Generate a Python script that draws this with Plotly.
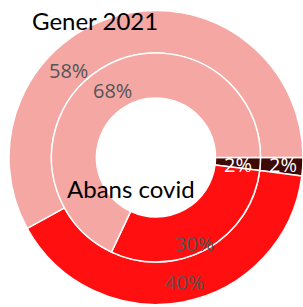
import plotly.graph_objects as go

categories = ["Altres", "Vermell", "Rosa"]
outer_label = "Gener 2021"
inner_label = "Abans covid"
outer_values = [2, 40, 58]
inner_values = [2, 30, 68]
colors = ["#3D0A05", "#FF0F0F", "#F4A7A3"]

W, H = 303, 307
cx, cy = 156, 157.5  # pixels from top-left
R_out, R_mid, R_in = 147, 104.5, 59.5

def dom(r):
    return dict(x=[(cx - r) / W, min((cx + r) / W, 1.0)],
                y=[(H - cy - r) / H, (H - cy + r) / H])

fig = go.Figure()
fig.add_trace(go.Pie(
    values=outer_values, labels=categories, sort=False, direction="clockwise",
    rotation=90, hole=R_mid / R_out, domain=dom(R_out),
    marker=dict(colors=colors, line=dict(color="white", width=1.5)),
    textinfo="none", hoverinfo="label+percent", showlegend=False))
fig.add_trace(go.Pie(
    values=inner_values, labels=categories, sort=False, direction="clockwise",
    rotation=90, hole=R_in / R_mid, domain=dom(R_mid),
    marker=dict(colors=colors, line=dict(color="white", width=1.5)),
    textinfo="none", hoverinfo="label+percent", showlegend=False))

# label positions (pixels) for outer and inner percentages: dark, red, pink
outer_pos = [(283, 164), (184, 282), (68, 70)]
inner_pos = [(238, 164), (194, 243), (112, 90)]
txt_colors = ["white", "#555555", "#555555"]

annotations = []
for vals, pos in ((outer_values, outer_pos), (inner_values, inner_pos)):
    for v, (px, py), c in zip(vals, pos, txt_colors):
        annotations.append(dict(
            x=px / W, y=1 - py / H, xref="paper", yref="paper",
            xanchor="center", yanchor="middle",
            text=f"{v}%", showarrow=False,
            font=dict(family="Open Sans", size=20, color=c)))

annotations.append(dict(x=95 / W, y=1 - 20 / H, xref="paper", yref="paper",
                        xanchor="center", yanchor="middle",
                        text=outer_label, showarrow=False,
                        font=dict(family="Lato", size=24, color="black")))
annotations.append(dict(x=131 / W, y=1 - 188 / H, xref="paper", yref="paper",
                        xanchor="center", yanchor="middle",
                        text=inner_label, showarrow=False,
                        font=dict(family="Lato", size=24, color="black")))

fig.update_layout(width=W, height=H, margin=dict(l=0, r=0, t=0, b=0),
                  paper_bgcolor="white", plot_bgcolor="white",
                  annotations=annotations)
fig.write_html("out.html", config={"displayModeBar": False},
               post_script="document.body.style.margin='0';")
